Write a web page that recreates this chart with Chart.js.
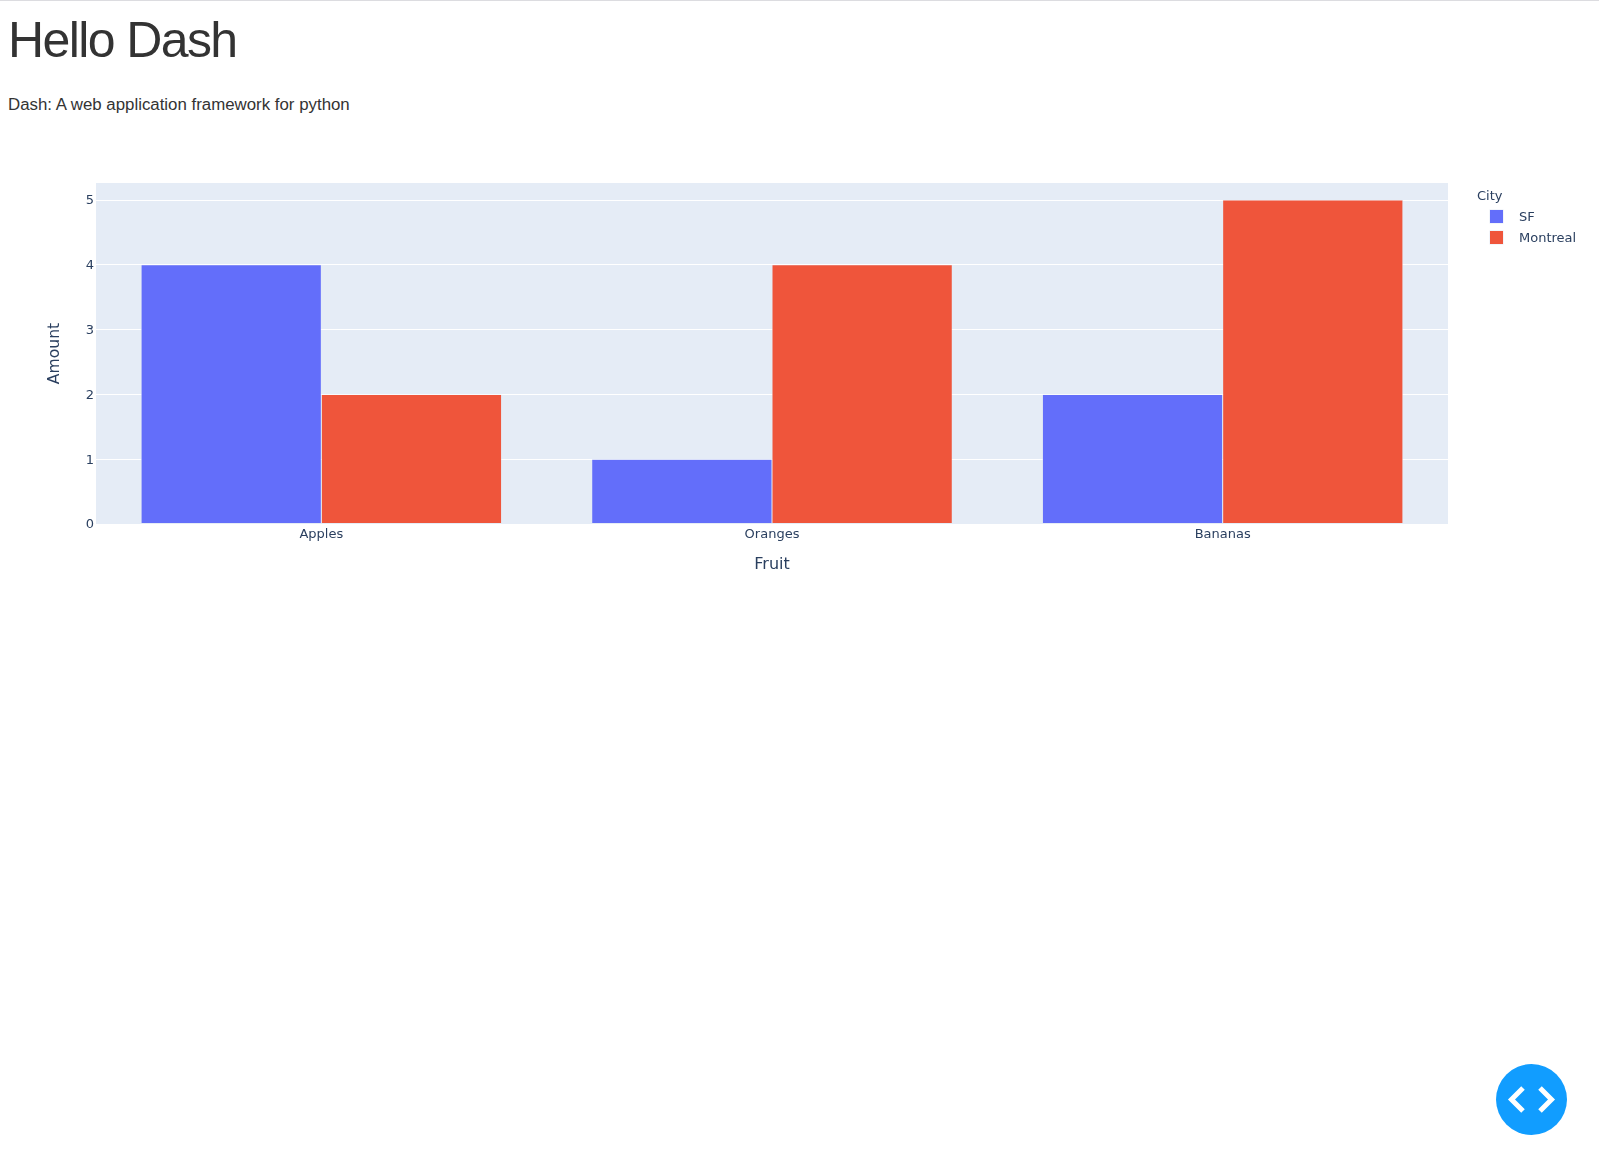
<!DOCTYPE html>
<html lang="en">
<head>
  <meta charset="UTF-8">
  <title>Hello Dash</title>
  <script src="https://cdn.jsdelivr.net/npm/chart.js"></script>
  <style>
    html, body { margin: 0; padding: 0; background: #fff; }
    body { width: 1599px; height: 1163px; position: relative; overflow: hidden; font-family: "Liberation Sans", Arial, sans-serif; color: #333; }
    .topline { position: absolute; left: 0; top: 0; width: 100%; height: 1px; background: #dcdce0; }
    h1 { position: absolute; left: 8px; top: 10px; margin: 0; font-size: 50px; line-height: 60px; font-weight: 400; letter-spacing: -1.6px; white-space: nowrap; }
    p { position: absolute; left: 8px; top: 95px; margin: 0; font-size: 16.85px; line-height: 20px; white-space: nowrap; }
    #graph { position: absolute; left: 0; top: 135px; width: 1599px; height: 450px; }
    #legend { position: absolute; left: 1477px; top: 186px; font: 13px "DejaVu Sans", sans-serif; color: #2a3f5f; }
    #legend .title { height: 20px; line-height: 20px; }
    #legend .item { position: relative; height: 21px; line-height: 21px; padding-left: 42px; white-space: nowrap; }
    #legend .swatch { position: absolute; left: 13px; top: 4px; width: 13px; height: 13px; box-shadow: 0 0 0 0.5px #E5ECF6; }
    .fab { position: absolute; left: 1496px; top: 1064px; width: 71px; height: 71px; }
  </style>
</head>
<body>
  <div class="topline"></div>
  <h1>Hello Dash</h1>
  <p>Dash: A web application framework for python</p>
  <canvas id="graph" width="1599" height="450"></canvas>
  <div id="legend"></div>
  <svg class="fab" viewBox="0 0 71 71">
    <circle cx="35.5" cy="35.5" r="35.5" fill="#119DFF"/>
    <path d="M 27 24 L 15.5 35.5 L 27 47" fill="none" stroke="#fff" stroke-width="5"/>
    <path d="M 44 24 L 55.5 35.5 L 44 47" fill="none" stroke="#fff" stroke-width="5"/>
  </svg>

  <script>
    const fruits = ['Apples', 'Oranges', 'Bananas'];
    const sfAmounts = [4, 1, 2];
    const montrealAmounts = [2, 4, 5];
    const yAxisMax = 5.263;
    const legendTitle = 'City';

    const tickColor = '#2a3f5f';
    const plotBg = '#E5ECF6';
    const tickFont = { family: '"DejaVu Sans", sans-serif', size: 13 };
    const xTitleFont = { family: '"DejaVu Sans", sans-serif', size: 16 };
    const yTitleFont = { family: '"DejaVu Sans", sans-serif', size: 15.6 };

    // plot background, Chart.js has no option for it
    const plotBackground = {
      id: 'plotBackground',
      beforeDraw(chart) {
        const a = chart.chartArea;
        chart.ctx.save();
        chart.ctx.fillStyle = plotBg;
        chart.ctx.fillRect(a.left, a.top, a.width, a.height);
        chart.ctx.restore();
      }
    };

    // html legend, built from the datasets
    const htmlLegend = {
      id: 'htmlLegend',
      afterUpdate(chart) {
        const box = document.getElementById('legend');
        box.innerHTML = '<div class="title">' + legendTitle + '</div>';
        chart.data.datasets.forEach(ds => {
          const row = document.createElement('div');
          row.className = 'item';
          const sw = document.createElement('span');
          sw.className = 'swatch';
          sw.style.background = ds.backgroundColor;
          row.appendChild(sw);
          row.appendChild(document.createTextNode(ds.label));
          box.appendChild(row);
        });
      }
    };

    new Chart(document.getElementById('graph'), {
      type: 'bar',
      data: {
        labels: fruits,
        datasets: [
          { label: 'SF', data: sfAmounts, backgroundColor: '#636EFA', borderColor: plotBg, borderWidth: 0.5, borderSkipped: false },
          { label: 'Montreal', data: montrealAmounts, backgroundColor: '#EF553B', borderColor: plotBg, borderWidth: 0.5, borderSkipped: false }
        ]
      },
      options: {
        responsive: false,
        animation: false,
        layout: { padding: { top: 48, right: 151, left: 0, bottom: 0 } },
        datasets: { bar: { categoryPercentage: 0.8, barPercentage: 1 } },
        plugins: {
          legend: { display: false },
          tooltip: { enabled: false }
        },
        scales: {
          x: {
            afterFit: s => { s.height = 61; },
            grid: { display: false, drawTicks: false },
            border: { display: false },
            ticks: { color: tickColor, font: tickFont, padding: 3, maxRotation: 0 },
            title: { display: true, text: 'Fruit', color: tickColor, font: xTitleFont, padding: { top: 0, bottom: 11 } }
          },
          y: {
            min: 0,
            max: yAxisMax,
            afterFit: s => { s.width = 96; },
            grid: { color: '#fff', lineWidth: 1, drawTicks: false },
            border: { display: false },
            ticks: { stepSize: 1, includeBounds: false, color: tickColor, font: tickFont, padding: 2, labelOffset: 1 },
            title: { display: true, text: 'Amount', color: tickColor, font: yTitleFont, padding: { top: 46, bottom: 0 } }
          }
        }
      },
      plugins: [plotBackground, htmlLegend]
    });
  </script>
</body>
</html>
